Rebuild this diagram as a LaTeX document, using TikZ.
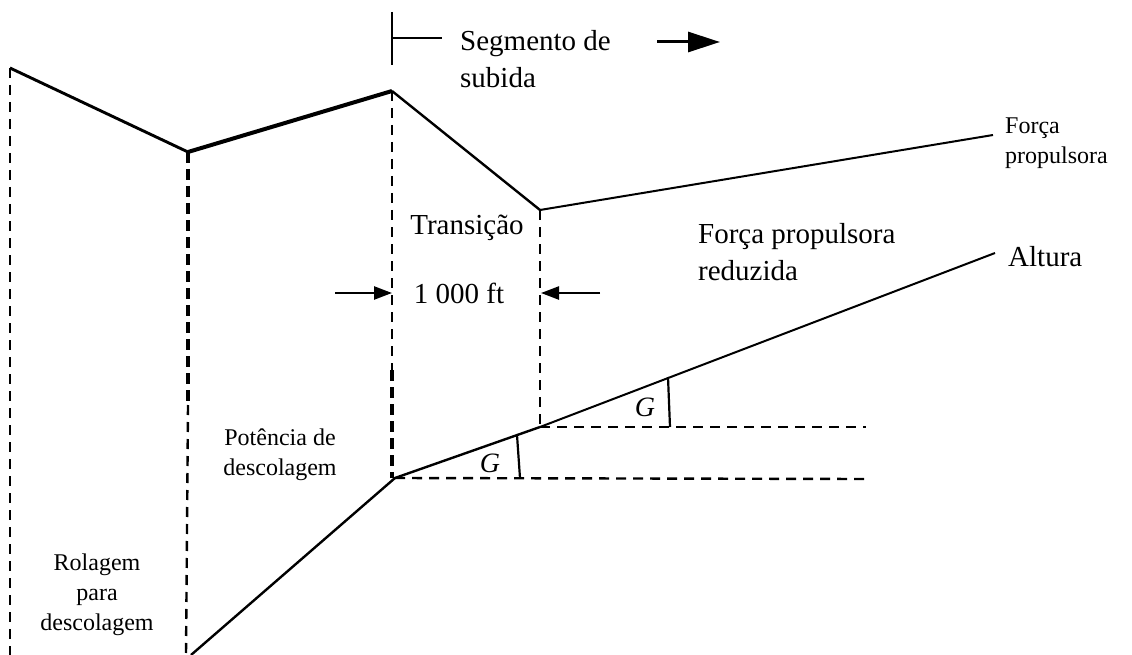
\documentclass[tikz,border=0pt]{standalone}
\usepackage{fontspec}
\setmainfont{Liberation Serif}
\usetikzlibrary{arrows.meta}
\begin{document}
\begin{tikzpicture}[x=1pt,y=-1pt,
  curve/.style={line width=2.4pt, line join=round},
  thickcurve/.style={line width=4pt, line join=round},
  dashline/.style={line width=2.4pt, dash pattern=on 10pt off 7pt},
  thickdash/.style={line width=4pt, dash pattern=on 11pt off 6pt},
  bigtxt/.style={font=\fontsize{29}{37}\selectfont, inner sep=0pt},
  smalltxt/.style={font=\fontsize{24}{30}\selectfont, inner sep=0pt},
  gtxt/.style={font=\fontsize{28}{30}\selectfont\itshape, inner sep=0pt},
  dimarrow/.style={line width=2.4pt, -{Triangle[length=18pt,width=13pt]}},
  bigarrow/.style={line width=3pt, -{Triangle[length=32pt,width=20pt]}}
]
\useasboundingbox (0,0) rectangle (1132,655);
% thrust curve points
\coordinate (t0) at (10,68);
\coordinate (t1) at (188,152);
\coordinate (t2) at (392,91);
\coordinate (t3) at (540,210);
\coordinate (t4) at (993,135);
% height curve points
\coordinate (h0) at (191,655);
\coordinate (h1) at (395,478);
\coordinate (h2) at (540,427);
\coordinate (h3) at (995,253);
% bottoms of verticals
\coordinate (b0) at (10,655);
\coordinate (b1) at (186,655);
\coordinate (m1) at (188,405);
\coordinate (b2) at (392,478);
\coordinate (m2) at (392,370);
\coordinate (e1) at (866,427);
\coordinate (e2) at (866,479);
% thrust line
\draw[curve, line width=2.9pt] (t0) -- (t1);
\draw[thickcurve] (t1) -- (t2);
\draw[curve] (t2) -- (t3);
\draw[curve, line width=2pt] (t3) -- (t4);
% height line
\draw[curve] (h0) -- (h1) -- (h2);
\draw[curve, line width=2pt] (h2) -- (h3);
% vertical dashed lines
\draw[dashline] (t0) -- (b0);
\draw[thickdash] (t1) -- (m1);
\draw[dashline] (m1) -- (b1);
\draw[dashline] (t2) -- (m2);
\draw[thickdash] (m2) -- (b2);
\draw[dashline] (t3) -- (h2);
% horizontal dashed lines
\draw[dashline] (h2) -- (e1);
\draw[dashline] (h1) -- (e2);
% angle marks
\coordinate (g1a) at (517,435);
\coordinate (g1b) at (520,478);
\coordinate (g2a) at (668,377);
\coordinate (g2b) at (670,427);
\draw[curve, line width=2.2pt] (g1a) -- (g1b);
\draw[curve, line width=2.2pt] (g2a) -- (g2b);
\node[gtxt] (G1) at (490,463) {G};
\node[gtxt] (G2) at (645,407) {G};
% segment bracket and arrow
\coordinate (s0) at (392,12);
\coordinate (s1) at (392,65);
\coordinate (s2) at (392,38);
\coordinate (s3) at (442,38);
\draw[line width=2.4pt] (s0) -- (s1);
\draw[line width=2.4pt] (s2) -- (s3);
\coordinate (a0) at (657,42);
\coordinate (a1) at (720,42);
\draw[bigarrow] (a0) -- (a1);
\node[bigtxt, anchor=base west, align=left] (seg) at (460,88) {Segmento de\\subida};
% transition
\node[bigtxt] (trans) at (467,228) {Transição};
\node[bigtxt] (dist) at (459,293) {1 000 ft};
\coordinate (d0) at (335,293);
\coordinate (d1) at (392,293);
\coordinate (d2) at (600,293);
\coordinate (d3) at (541,293);
\draw[dimarrow] (d0) -- (d1);
\draw[dimarrow] (d2) -- (d3);
% labels
\node[bigtxt, anchor=base west, align=left] (red) at (698,280) {Força propulsora\\reduzida};
\node[bigtxt, anchor=base west] (alt) at (1008,266) {Altura};
\node[smalltxt, anchor=base west, align=left] (fp) at (1005,164) {Força\\propulsora};
\node[smalltxt, anchor=base, align=center] (pot) at (280,475) {Potência de\\descolagem};
\node[smalltxt, anchor=base, align=center] (rol) at (97,630) {Rolagem\\para\\descolagem};
\end{tikzpicture}
\end{document}
